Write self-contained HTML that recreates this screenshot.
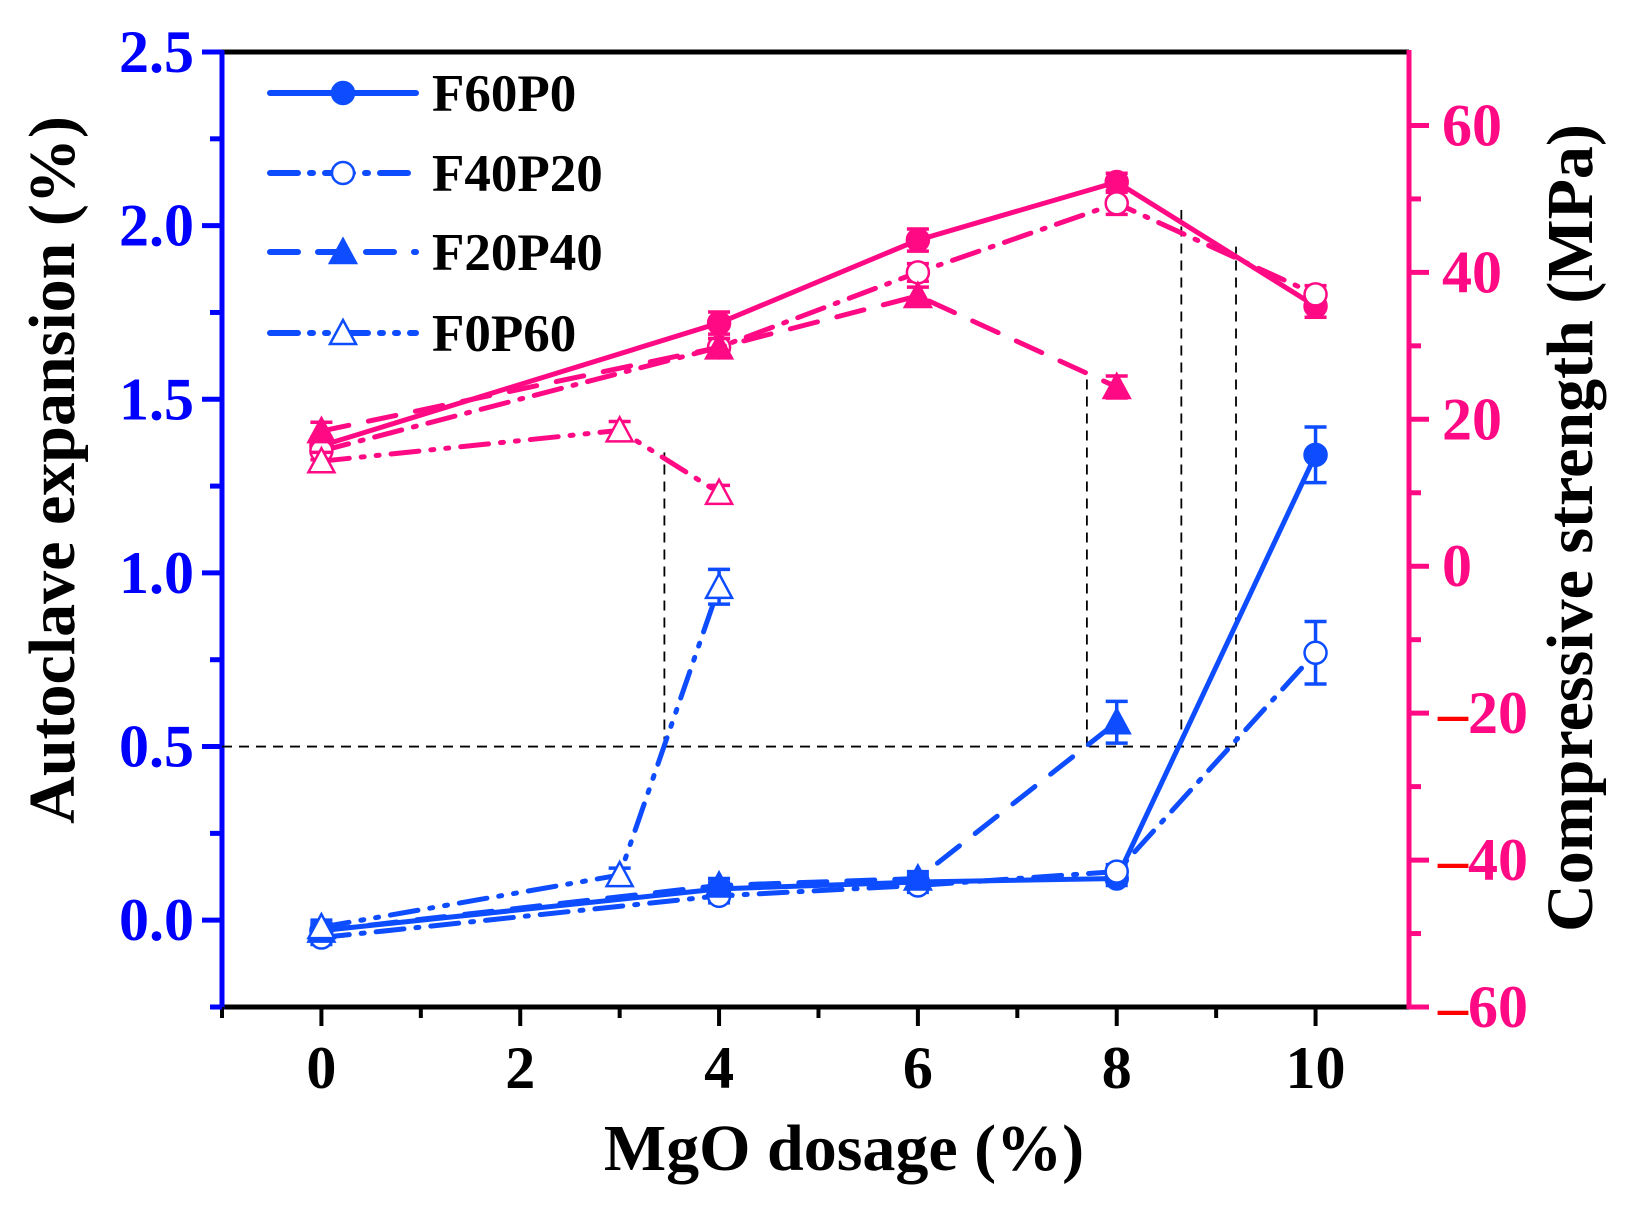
<!DOCTYPE html>
<html><head><meta charset="utf-8">
<style>
html,body{margin:0;padding:0;background:#fff;}
svg text{font-family:"Liberation Serif",serif;font-weight:bold;}
</style></head>
<body>
<svg id="chart" width="1631" height="1209" viewBox="0 0 1631 1209" xmlns="http://www.w3.org/2000/svg"></svg>
<script>
// ---- data ----
const seriesNames = ["F60P0","F40P20","F20P40","F0P60"];
const xF60P0 = [0,4,6,8,10];
const expF60P0 = [-0.03,0.09,0.11,0.12,1.34];
const errExpF60P0 = [0.02,0.02,0.02,0.02,0.08];
const strF60P0 = [16.4,33.1,44.4,52.3,35.4];
const errStrF60P0 = [1.2,1.5,1.5,1.2,1.5];
const xF40P20 = [0,4,6,8,10];
const expF40P20 = [-0.05,0.07,0.10,0.14,0.77];
const errExpF40P20 = [0.02,0.02,0.02,0.02,0.09];
const strF40P20 = [15.7,29.8,40.0,49.4,37.0];
const errStrF40P20 = [1.2,1.2,1.2,1.5,1.2];
const xF20P40 = [0,4,6,8];
const expF20P40 = [-0.03,0.10,0.12,0.57];
const errExpF20P40 = [0.02,0.02,0.02,0.06];
const strF20P40 = [18.4,29.8,36.8,24.4];
const errStrF20P40 = [1.2,1.2,1.2,1.5];
const xF0P60 = [0,3,4];
const expF0P60 = [-0.02,0.13,0.96];
const errExpF0P60 = [0.02,0.02,0.05];
const strF0P60 = [14.3,18.5,10.0];
const errStrF0P60 = [1.2,1.2,1.0];
const leftTicks = [0.0,0.5,1.0,1.5,2.0,2.5];
const leftTickLabels = ["0.0","0.5","1.0","1.5","2.0","2.5"];
const rightTicks = [-60,-40,-20,0,20,40,60];
const rightTickLabels = ["60","40","20","0","20","40","60"];
const xTicks = [0,2,4,6,8,10];
const xTickLabels = ["0","2","4","6","8","10"];
const guideXs = [3.45,7.7,8.65,9.2];
const guideTops = [15.5,26.5,48.5,43.5];
const guideLevel = 0.5;

// ---- axes ----
const L=222,R=1409,T=52,B=1007;
const X0=-1.0,X1=10.94;
const yLmin=-0.25,yLmax=2.5, yRmin=-60,yRmax=70;
function xs(v){return L+(v-X0)/(X1-X0)*(R-L);}
function yl(v){return B-(v-yLmin)/(yLmax-yLmin)*(B-T);}
function yr(v){return B-(v-yRmin)/(yRmax-yRmin)*(B-T);}
const BLUE="#0d4dff", AXB="#0000ff", PINK="#ff0a84";
const svg=document.getElementById('chart');
const NS="http://www.w3.org/2000/svg";
function el(tag,attrs,parent){const e=document.createElementNS(NS,tag);for(const k in attrs)e.setAttribute(k,attrs[k]);(parent||svg).appendChild(e);return e;}
function txt(s,attrs,parent){const e=el('text',attrs,parent);e.textContent=s;return e;}

let e;
e=el('line',{x1:L,y1:T,x2:R,y2:T,stroke:'#000','stroke-width':5});


e=el('line',{x1:L-3,y1:B,x2:R,y2:B,stroke:'#000','stroke-width':5});


e=el('line',{x1:L,y1:T-2,x2:L,y2:B+2,stroke:AXB,'stroke-width':5});


e=el('line',{x1:R,y1:T-2,x2:R,y2:B+2,stroke:PINK,'stroke-width':5});



for(let v=-1;v<=10;v++){
  const major=xTicks.includes(v);
  e=el('line',{x1:xs(v),y1:B,x2:xs(v),y2:B+(major?19:11),stroke:'#000','stroke-width':4});
  
  
}
xTicks.forEach((v,i)=>{
  e=txt(xTickLabels[i],{x:xs(v),y:1088,'text-anchor':'middle','font-size':60,fill:'#000'});
  
  
});
for(let v=-0.25;v<=2.5001;v+=0.25){
  const major=Math.abs(v*2-Math.round(v*2))<1e-6;
  e=el('line',{x1:L,y1:yl(v),x2:L-(major?20:12),y2:yl(v),stroke:AXB,'stroke-width':5});
  
  
}
leftTicks.forEach((v,i)=>{
  e=txt(leftTickLabels[i],{x:194,y:yl(v)+20,'text-anchor':'end','font-size':60,fill:AXB});
  
  
});
for(let v=-60;v<=60;v+=10){
  const major=v%20===0;
  e=el('line',{x1:R,y1:yr(v),x2:R+(major?20:12),y2:yr(v),stroke:PINK,'stroke-width':5});
  
  
}
rightTicks.forEach((v,i)=>{
  const g=el('text',{x:v<0?1438:1442,y:yr(v)+20,'font-size':60,fill:PINK});
  
  
  if(v<0){const s=document.createElementNS(NS,'tspan');s.setAttribute('fill','#ff0000');s.textContent='\u2013';g.appendChild(s);}
  const s2=document.createElementNS(NS,'tspan');s2.textContent=rightTickLabels[i];g.appendChild(s2);
  if(v===0) g.setAttribute('x',1442);
});

e=txt('Autoclave expansion (%)',{x:0,y:0,'text-anchor':'middle','font-size':66,fill:'#000',transform:`translate(74,470) rotate(-90)`});


e=txt('Compressive strength (MPa)',{x:0,y:0,'text-anchor':'middle','font-size':66,fill:'#000',transform:`translate(1592,528) rotate(-90)`});


e=txt('MgO dosage (%)',{x:844,y:1170,'text-anchor':'middle','font-size':66,fill:'#000'});



let gd='M'+L+' '+yl(guideLevel)+' L'+xs(guideXs[guideXs.length-1])+' '+yl(guideLevel);
guideXs.forEach((gx,i)=>{gd+=' M'+xs(gx)+' '+yl(guideLevel)+' L'+xs(gx)+' '+yr(guideTops[i]);});
e=el('path',{d:gd,stroke:'#000','stroke-width':1.8,'stroke-dasharray':'10 7',fill:'none'});



const styles={
 F60P0:{dash:'',marker:'circle',fill:true},
 F40P20:{dash:'28 12 3 12',marker:'circle',fill:false},
 F20P40:{dash:'28 20',marker:'tri',fill:true},
 F0P60:{dash:'28 12 3 12 3 12',marker:'tri',fill:false}
};
const data={
 F60P0:[xF60P0,expF60P0,errExpF60P0,strF60P0,errStrF60P0],
 F40P20:[xF40P20,expF40P20,errExpF40P20,strF40P20,errStrF40P20],
 F20P40:[xF20P40,expF20P40,errExpF20P40,strF20P40,errStrF20P40],
 F0P60:[xF0P60,expF0P60,errExpF0P60,strF0P60,errStrF0P60]
};
function marker(kind,fill,cx,cy,col,parent){
  if(kind==='circle') return el('circle',{cx,cy,r:11,fill:fill?col:'#fff',stroke:col,'stroke-width':2.5},parent);
  const s=13;
  return el('polygon',{points:`${cx},${cy-s} ${cx-s},${cy+s*0.85} ${cx+s},${cy+s*0.85}`,fill:fill?col:'#fff',stroke:col,'stroke-width':2.5},parent);
}
function drawSeries(name,xv,yv,ev,ymap,col,which){
  const st=styles[name];
  const g=el('g',{});
  
  
  const pts=xv.map((x,i)=>xs(x)+','+ymap(yv[i])).join(' ');
  el('polyline',{points:pts,fill:'none',stroke:col,'stroke-width':5,'stroke-dasharray':st.dash,'stroke-linecap':'round'},g);
  xv.forEach((x,i)=>{
    const cx=xs(x), y1=ymap(yv[i]+ev[i]), y2=ymap(yv[i]-ev[i]);
    el('path',{d:`M${cx} ${y1} L${cx} ${y2} M${cx-11} ${y1} L${cx+11} ${y1} M${cx-11} ${y2} L${cx+11} ${y2}`,stroke:col,'stroke-width':3.5,fill:'none'},g);
    const m=marker(st.marker,st.fill,cx,ymap(yv[i]),col,g);
    
    
  });
}
seriesNames.forEach(n=>{const d=data[n];drawSeries(n,d[0],d[3],d[4],yr,PINK,'strength');});
seriesNames.forEach(n=>{const d=data[n];drawSeries(n,d[0],d[1],d[2],yl,BLUE,'expansion');});

const legY=[93,173,252,333];
const lg=el('g',{});


seriesNames.forEach((n,i)=>{
  const st=styles[n];
  const g=el('g',{},lg);
  
  
  el('line',{x1:270,y1:legY[i],x2:416,y2:legY[i],stroke:BLUE,'stroke-width':6,'stroke-dasharray':st.dash,'stroke-linecap':'round'},g);
  marker(st.marker,st.fill,343,legY[i],BLUE,g);
  txt(n,{x:432,y:legY[i]+18,'font-size':53,fill:'#000'},g);
});
</script>
</body></html>
